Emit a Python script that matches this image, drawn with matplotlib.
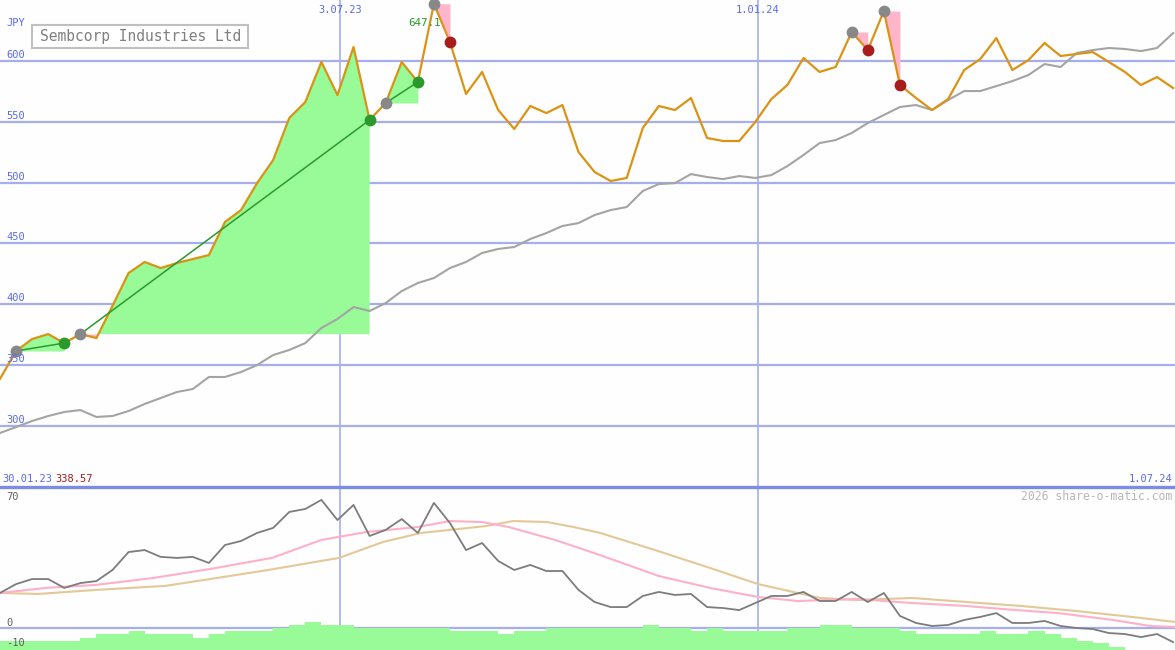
import matplotlib
matplotlib.use('Agg')
import matplotlib.pyplot as plt
import numpy as np
import pandas as pd
from matplotlib.patches import Rectangle
from matplotlib.lines import Line2D

# ---------------- data ----------------
start_date = pd.Timestamp('2023-02-05')
first_label = '30.01.23'
end_label = '1.07.24'
date_lines = ['2023-07-03', '2024-01-01']
date_line_labels = ['3.07.23', '1.01.24']
title = 'Sembcorp Industries Ltd'
currency = 'JPY'
price_ticks = [300, 350, 400, 450, 500, 550, 600]
osc_ticks = [70, 0, -10]
peak_label = '647.1'

price = [338.57, 361.5, 371.3, 375.4, 368.0, 375.4, 372.1, 398.5, 425.6, 434.7,
         429.7, 433.8, 437.1, 440.4, 467.6, 477.4, 499.6, 518.6, 553.1, 566.3,
         599.2, 572.0, 611.5, 551.5, 565.5, 599.2, 582.7, 647.1, 615.6, 572.9,
         591.0, 559.7, 544.1, 563.0, 557.2, 563.8, 525.1, 508.7, 501.3, 503.8,
         544.9, 563.0, 559.7, 569.6, 536.7, 534.2, 534.2, 549.8, 568.7, 580.3,
         602.5, 591.0, 595.1, 623.9, 609.0, 641.1, 580.3, 569.6, 559.7, 568.7,
         592.6, 601.6, 618.9, 592.6, 600.8, 614.8, 604.1, 605.8, 607.4, 599.2,
         591.0, 580.3, 586.8, 577.8]

moving_avg = [294.0, 298.9, 303.9, 308.0, 311.3, 312.9, 307.2, 308.0, 312.1, 317.9,
              322.8, 327.7, 330.2, 340.1, 340.1, 344.2, 349.9, 358.2, 362.3, 368.0,
              380.4, 387.8, 397.6, 394.4, 400.9, 410.8, 417.4, 421.5, 429.7, 434.7,
              442.1, 445.4, 447.0, 453.6, 458.5, 464.3, 466.7, 473.3, 477.4, 479.9,
              493.1, 498.8, 499.6, 507.0, 504.6, 502.9, 505.4, 503.8, 506.2, 513.6,
              522.7, 532.5, 535.0, 540.8, 549.0, 555.6, 562.2, 563.8, 559.7, 567.9,
              575.3, 575.3, 579.4, 583.5, 588.5, 597.5, 595.1, 606.6, 609.0, 610.7,
              609.9, 608.2, 610.7, 623.0]

osc = [17.4, 21.8, 24.3, 24.3, 19.9, 22.3, 23.3, 28.8, 37.7, 38.7,
       35.3, 34.8, 35.3, 32.3, 41.2, 43.2, 47.2, 49.7, 57.6, 59.1,
       63.6, 53.6, 61.1, 45.7, 48.7, 54.1, 47.2, 62.1, 52.1, 38.7,
       42.2, 33.3, 28.8, 31.3, 28.3, 28.3, 18.9, 12.9, 10.4, 10.4,
       15.9, 17.9, 16.4, 16.9, 10.4, 9.9, 8.9, 12.4, 15.9, 15.9,
       17.9, 13.4, 13.4, 17.9, 12.9, 17.4, 6.0, 2.5, 1.0, 1.5,
       4.0, 5.5, 7.4, 2.5, 2.5, 3.5, 1.0, 0.0, -0.5, -2.5,
       -3.0, -4.5, -3.0, -7.0]

pink_days = [0, 20, 41.8, 66.6, 91.5, 118.5, 139.9, 159.9, 181.7, 196, 210, 221.7, 241.8,
             261.4, 287, 309.3, 330.2, 347.6, 373.3, 397.3, 421.2, 436.9, 460.9, 484.8,
             500.9, 511.8]
pink_vals = [17.4, 19.9, 21.4, 24.8, 29.3, 34.8, 43.7, 47.7, 50.1, 53.1, 52.6, 50.1, 43.7,
             36.2, 25.8, 19.9, 15.4, 13.4, 14.4, 12.4, 10.9, 9.4, 7.4, 4.0, 1.0, 0.5]
tan_days = [0, 16.5, 41.8, 71.9, 91.5, 116.8, 147.7, 166.8, 183.4, 211.7, 223.4, 238.3,
            250, 261.4, 285.3, 309.3, 330.2, 357.2, 373.3, 397.3, 421.2, 445.2, 469.1,
            493.1, 511.8]
tan_vals = [17.4, 16.9, 18.9, 20.9, 24.3, 28.8, 34.8, 42.7, 47.2, 50.6, 53.1, 52.6,
            50.1, 47.2, 38.7, 29.8, 21.8, 14.9, 13.9, 14.9, 12.9, 10.9, 8.4, 5.5, 3.0]

# weekly histogram levels (None = no bar)
hist = ([-6.5] * 5 + [-4.8] + [-3.2] * 2 + [-1.5] + [-3.2] * 3 + [-4.8] + [-3.2] +
        [-1.5] * 3 + [0.0] + [1.5] + [2.8] + [1.5] * 2 + [0.0] * 6 + [-1.5] * 3 +
        [-3.2] + [-1.5] * 2 + [0.0] * 6 + [1.5] + [0.0] * 2 + [-1.5] + [0.0] +
        [-1.5] * 4 + [0.0] * 2 + [1.5] * 2 + [0.0] * 3 + [-1.5] + [-3.2] * 4 +
        [-1.5] + [-3.2] * 2 + [-1.5] + [-3.2] + [-4.8] + [-6.5] + [-7.4] + [-9.4] +
        [None] * 3)

buy_signals = [(1, 4), (5, 23), (24, 26)]
sell_signals = [(27, 28), (53, 54), (55, 56)]

# ---------------- style ----------------
W, H, DPI = 1175, 650, 100
BG = '#FDFEFD'
GRID = '#A5AFF0'
SEP = '#7B8BE6'
TXT_BLUE = '#5A6AF0'
ORANGE = '#DA9315'
GRAY_MA = '#A4A4A4'
GREEN_FILL = '#98FB98'
PINK_FILL = '#FFB6CA'
GREEN = '#2A9A2A'
RED = '#A81C1C'
DOT_GRAY = '#888888'
MONO = 'DejaVu Sans Mono'

days = np.arange(len(price)) * 7.0
price_a = np.array(price)
xmax = W / (16.07 / 7.0)

fig = plt.figure(figsize=(W / DPI, H / DPI), dpi=DPI, facecolor=BG)
top_h = 487 / H
ax1 = fig.add_axes([0, 1 - top_h, 1, top_h], facecolor=BG)
ax2 = fig.add_axes([0, 0, 1, 1 - top_h], facecolor=BG)
for ax in (ax1, ax2):
    ax.set_xlim(0, xmax)
    for s in ax.spines.values():
        s.set_visible(False)
    ax.set_xticks([])
    ax.set_yticks([])
ax1.set_ylim(249.6, 650.2)
ax2.set_ylim(-10.92, 70)

# grid
for v in price_ticks:
    ax1.axhline(v, color=GRID, lw=1.6, zorder=1)
    ax1.annotate(str(v), xy=(0, v), xycoords=('axes fraction', 'data'),
                 xytext=(6, 3), textcoords='offset pixels', va='baseline', ha='left',
                 color=TXT_BLUE, fontsize=7.5, family=MONO, zorder=10)
ax1.annotate(currency, xy=(0, 1), xycoords='axes fraction', xytext=(6, -26),
             textcoords='offset pixels', va='baseline', ha='left', color=TXT_BLUE,
             fontsize=7.5, family=MONO)

for d, lab in zip(date_lines, date_line_labels):
    dd = (pd.Timestamp(d) - start_date).days
    ax1.axvline(dd, color=GRID, lw=1.2, zorder=1)
    ax2.axvline(dd, color=GRID, lw=1.2, zorder=1)
    ax1.annotate(lab, xy=(dd, 1), xycoords=('data', 'axes fraction'), xytext=(0, -13),
                 textcoords='offset pixels', ha='center', va='baseline', color=TXT_BLUE,
                 fontsize=7.5, family=MONO)

# signal fills
for (s, e) in buy_signals + sell_signals:
    xs = days[s:e + 1]
    ps = price_a[s:e + 1]
    lvl = price_a[s]
    ax1.fill_between(xs, ps, lvl, where=ps >= lvl, interpolate=True, color=GREEN_FILL,
                     lw=0, zorder=2)
    ax1.fill_between(xs, ps, lvl, where=ps <= lvl, interpolate=True, color=PINK_FILL,
                     lw=0, zorder=2)

ax1.plot(days, moving_avg, color=GRAY_MA, lw=1.5, zorder=3)
ax1.plot(days, price, color=ORANGE, lw=1.6, zorder=4)

for s, e in buy_signals:
    ax1.plot([days[s], days[e]], [price[s], price[e]], color=GREEN, lw=1.1, zorder=5)
    ax1.plot(days[s], price[s], 'o', color=DOT_GRAY, ms=8.5, mew=0, zorder=6)
    ax1.plot(days[e], price[e], 'o', color=GREEN, ms=8.5, mew=0, zorder=6)
for s, e in sell_signals:
    ax1.plot(days[s], price[s], 'o', color=DOT_GRAY, ms=8.5, mew=0, zorder=6)
    ax1.plot(days[e], price[e], 'o', color=RED, ms=8.5, mew=0, zorder=6)

ipk = int(np.argmax(price_a))
ax1.annotate(peak_label, xy=(days[ipk], price[ipk]), xytext=(7, -22),
             textcoords='offset pixels', ha='right', va='baseline', color=GREEN,
             fontsize=7.8, family=MONO, zorder=7)

# bottom labels of main panel
ax1.annotate(first_label, xy=(0, 0), xycoords='axes fraction', xytext=(2, 5),
             textcoords='offset pixels', ha='left', va='baseline', color=TXT_BLUE,
             fontsize=7.5, family=MONO)
ax1.annotate(f'{price[0]:.2f}', xy=(0, 0), xycoords='axes fraction', xytext=(55, 5),
             textcoords='offset pixels', ha='left', va='baseline', color=RED,
             fontsize=7.5, family=MONO)
ax1.annotate(end_label, xy=(1, 0), xycoords='axes fraction', xytext=(-3, 5),
             textcoords='offset pixels', ha='right', va='baseline', color=TXT_BLUE,
             fontsize=7.5, family=MONO)

# title box
fig.patches.append(Rectangle((32 / W, 1 - 48 / H), 216 / W, 23 / H, transform=fig.transFigure,
                             facecolor='white', edgecolor='#C0C0C0', lw=1.5, zorder=20))
fig.text(141 / W, 1 - 36 / H, title, ha='center', va='center', color='#808080',
         fontsize=10.5, family=MONO, zorder=21)

# ---------------- lower panel ----------------
ax2.axhline(0, color=GRID, lw=1.6, zorder=1)
ylo = -10.92
for i, h in enumerate(hist):
    if h is None:
        continue
    ax2.bar(days[i], h - ylo, bottom=ylo, width=7, align='edge', color=GREEN_FILL,
            lw=0, zorder=2)
ax2.plot(tan_days, tan_vals, color='#E3C898', lw=1.5, zorder=3)
ax2.plot(pink_days, pink_vals, color='#FFB0C8', lw=1.5, zorder=4)
ax2.plot(days, osc, color='#7C7C7C', lw=1.3, zorder=5)

for v, off in zip(osc_ticks, [-13, 2, 2]):
    ax2.annotate(str(v), xy=(0, v), xycoords=('axes fraction', 'data'),
                 xytext=(6, off), textcoords='offset pixels', va='baseline', ha='left',
                 color='#606060', fontsize=7.5, family=MONO, zorder=10)
ax2.annotate('2026 share-o-matic.com', xy=(1, 1), xycoords='axes fraction',
             xytext=(-3, -13), textcoords='offset pixels', ha='right', va='baseline',
             color='#B8B8B8', fontsize=8.3, family=MONO)

# panel separator
fig.add_artist(Line2D([0, 1], [1 - top_h, 1 - top_h], transform=fig.transFigure,
                      color=SEP, lw=2.4, zorder=30))

fig.savefig('out.png', dpi=DPI, facecolor=BG)
